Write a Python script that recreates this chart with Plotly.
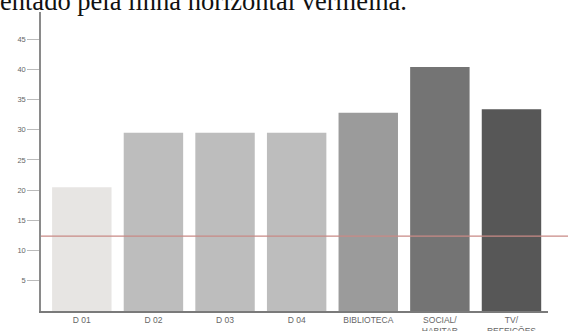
import plotly.graph_objects as go

categories = ["D 01", "D 02", "D 03", "D 04", "BIBLIOTECA", "SOCIAL/<br>HABITAR", "TV/<br>REFEIÇÕES"]
values = [20.5, 29.5, 29.5, 29.5, 32.8, 40.4, 33.4]
bar_colors = ["#e7e5e3", "#bdbdbd", "#bdbdbd", "#bdbdbd", "#9b9b9b", "#747474", "#575757"]
reference_value = 12.4
y_ticks = [5, 10, 15, 20, 25, 30, 35, 40, 45]
caption = "entado pela linha horizontal vermelha."

fig = go.Figure()
fig.add_trace(go.Bar(
    x=categories, y=values,
    marker=dict(color=bar_colors, line=dict(width=0)),
    width=0.83,
))

fig.add_shape(type="line", xref="paper", yref="y",
              x0=0, x1=1.04, y0=reference_value, y1=reference_value,
              line=dict(color="#c98a86", width=1.2))

fig.add_annotation(text=caption, xref="paper", yref="paper",
                   x=-0.083, y=1.01, xanchor="left", yanchor="top",
                   yshift=24,
                   showarrow=False, font=dict(family="Liberation Serif", size=26.5, color="#111"),
                   borderpad=0)

fig.update_layout(
    width=568, height=331,
    margin=dict(l=41, r=20, t=12, b=20, autoexpand=False),
    paper_bgcolor="white", plot_bgcolor="white",
    showlegend=False,
    bargap=0.17,
    xaxis=dict(range=[-0.57, 6.51], showline=True, linecolor="#7a7a7a", linewidth=1.5,
               ticks="", automargin=False,
               tickfont=dict(family="Liberation Sans", size=8.5, color="#666"),
               showgrid=False, tickangle=0),
    yaxis=dict(range=[0, 49.5], tickvals=y_ticks, showline=True, linecolor="#8a8a8a", linewidth=1.5,
               ticks="outside", ticklen=12, tickcolor="#bbb", tickwidth=1, automargin=False,
               tickfont=dict(family="Liberation Sans", size=7.5, color="#666"),
               showgrid=False, zeroline=False),
)

fig.write_html("out.html")
